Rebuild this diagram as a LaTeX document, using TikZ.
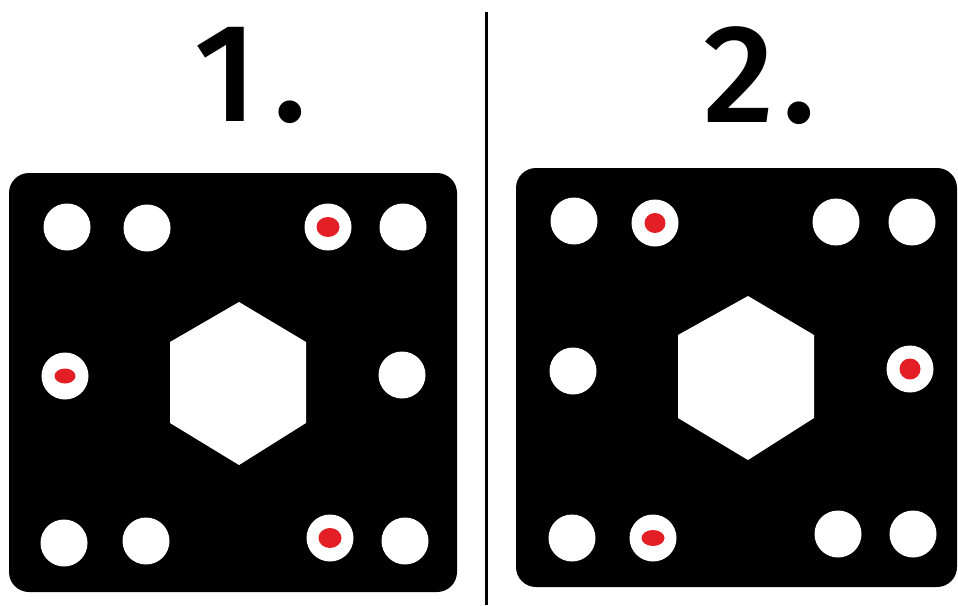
\documentclass[tikz,border=0pt]{standalone}
\usepackage{fontspec}
\setmainfont{DejaVu Sans}
\newfontfamily\numfont{Fira Sans}[UprightFont={* Medium}]
\usepackage{xcolor}
\definecolor{cPin}{HTML}{E31E24}
\usetikzlibrary{shapes.geometric}

\begin{document}
\begin{tikzpicture}[x=1pt, y=-1pt,
    plate/.style={fill=black, rounded corners=20pt, inner sep=0pt,
                  minimum height=419pt},
    hole/.style={circle, fill=white, minimum size=47pt, inner sep=0pt},
    pin/.style={ellipse, fill=cPin, minimum width=23pt, minimum height=20pt,
                inner sep=0pt},
    numlabel/.style={font=\numfont\fontsize{140}{140}\selectfont, inner sep=0pt}
]
\useasboundingbox (0,0) rectangle (958,605);

% headings
\node[numlabel] (n1) at (251,75) {1\kern0.12em.};
\node[numlabel] (n2) at (760,76) {2\kern0.06em.};

% divider
\coordinate (dtop) at (486,12);
\coordinate (dbot) at (486,605);
\draw[line width=3pt] (dtop) -- (dbot);

% plate 1
\node[plate, minimum width=448pt] (p1) at (233,382.5) {};
\fill[white] (239,302) -- (306,342) -- (306,423) -- (239,465)
             -- (170,423) -- (170,342) -- cycle;
\node[hole] (a1) at (67,227) {};
\node[hole] (a2) at (147,228) {};
\node[hole] (a3) at (328,227) {};
\node[hole] (a4) at (403,227) {};
\node[hole] (a5) at (65,376) {};
\node[hole] (a6) at (402,375) {};
\node[hole] (a7) at (64,543) {};
\node[hole] (a8) at (146,541) {};
\node[hole] (a9) at (330,538) {};
\node[hole] (a10) at (405,541) {};
\node[pin] (ap1) at (a3) {};
\node[pin, minimum width=21pt, minimum height=15pt] (ap2) at (a5) {};
\node[pin] (ap3) at (a9) {};

% plate 2
\node[plate, minimum width=441pt] (p2) at (736.5,377.5) {};
\fill[white] (748,296) -- (814,335) -- (814,418) -- (748,460)
             -- (678,418) -- (678,335) -- cycle;
\node[hole] (b1) at (574,221) {};
\node[hole] (b2) at (655,223) {};
\node[hole] (b3) at (836,222) {};
\node[hole] (b4) at (912,222) {};
\node[hole] (b5) at (573,371) {};
\node[hole] (b6) at (910,369) {};
\node[hole] (b7) at (572,538) {};
\node[hole] (b8) at (653,538) {};
\node[hole] (b9) at (838,534) {};
\node[hole] (b10) at (913,534) {};
\node[pin, minimum width=21pt] (bp1) at (b2) {};
\node[pin, minimum width=21pt, minimum height=21pt] (bp2) at (b6) {};
\node[pin, minimum height=16pt] (bp3) at (b8) {};
\end{tikzpicture}
\end{document}
